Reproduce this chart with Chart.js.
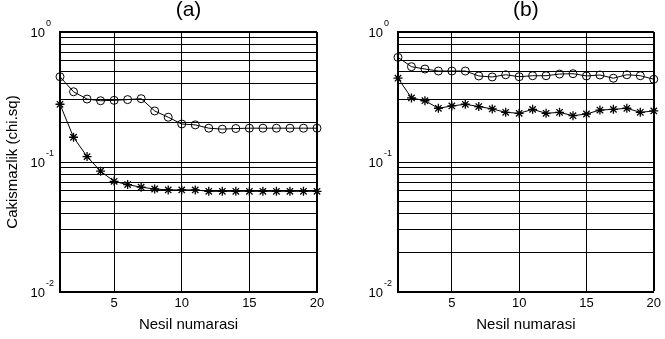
<!DOCTYPE html>
<html>
<head>
<meta charset="utf-8">
<script src="https://cdn.jsdelivr.net/npm/chart.js@4"></script>
<style>
  body { margin: 0; background: #fff; width: 665px; height: 339px; overflow: hidden; position: relative; }
  canvas { position: absolute; top: 0; }
</style>
</head>
<body>
<canvas id="chartA" width="332" height="339" style="left:0"></canvas>
<canvas id="chartB" width="333" height="339" style="left:332px"></canvas>
<script>
// generation numbers (x)
const generations = [1, 2, 3, 4, 5, 6, 7, 8, 9, 10, 11, 12, 13, 14, 15, 16, 17, 18, 19, 20];

// panel (a)
const aCircle = [0.453, 0.347, 0.305, 0.296, 0.298, 0.302, 0.307, 0.247, 0.221, 0.196,
                 0.193, 0.182, 0.179, 0.181, 0.182, 0.182, 0.182, 0.182, 0.182, 0.182];
const aStar = [0.278, 0.155, 0.110, 0.085, 0.071, 0.067, 0.064, 0.062, 0.061, 0.061,
               0.061, 0.0595, 0.0595, 0.0595, 0.0595, 0.0595, 0.0595, 0.0595, 0.0595, 0.0595];

// panel (b)
const bCircle = [0.638, 0.541, 0.519, 0.501, 0.501, 0.501, 0.459, 0.451, 0.469, 0.453,
                 0.461, 0.461, 0.475, 0.478, 0.459, 0.467, 0.441, 0.469, 0.461, 0.433];
const bStar = [0.441, 0.311, 0.296, 0.259, 0.270, 0.278, 0.267, 0.256, 0.241, 0.237,
               0.254, 0.237, 0.241, 0.227, 0.234, 0.251, 0.254, 0.259, 0.241, 0.247];

// ticks
const yTicks = [0.01, 0.02, 0.03, 0.04, 0.05, 0.06, 0.07, 0.08, 0.09,
                0.1, 0.2, 0.3, 0.4, 0.5, 0.6, 0.7, 0.8, 0.9, 1];
const yDecades = [0.01, 0.1, 1];
const xTicks = [5, 10, 15, 20];

const FONT = "'Liberation Sans', Arial, Helvetica, sans-serif";

// draws the 10^n labels and the (a)/(b) heading
const panelText = {
    id: 'panelText',
    afterDraw(chart, args, opts) {
        const ctx = chart.ctx;
        const y = chart.scales.y;
        const area = chart.chartArea;
        ctx.save();
        ctx.fillStyle = '#000';
        ctx.textBaseline = 'alphabetic';
        yDecades.forEach(v => {
            const py = y.getPixelForValue(v);
            const exp = String(Math.round(Math.log10(v)));
            ctx.font = '13px ' + FONT;
            ctx.textAlign = 'right';
            ctx.fillText('10', area.left - 15, py + 4.5);
            ctx.font = '9px ' + FONT;
            ctx.textAlign = 'left';
            ctx.fillText(exp, area.left - 14, py - 6.5);
        });
        ctx.font = '21px ' + FONT;
        ctx.textAlign = 'center';
        ctx.fillText(opts.title, (area.left + area.right) / 2, 16);
        ctx.restore();
    }
};

function toPoints(values) {
    return generations.map((g, i) => ({ x: g, y: values[i] }));
}

function makeChart(id, title, circles, stars, axisWidth, rightPad, yTitle) {
    const ctx = document.getElementById(id).getContext('2d');
    return new Chart(ctx, {
        type: 'line',
        data: {
            datasets: [{
                data: toPoints(circles),
                borderColor: '#000',
                borderWidth: 1,
                pointStyle: 'circle',
                pointRadius: 4,
                pointBorderWidth: 1,
                pointBorderColor: '#000',
                pointBackgroundColor: 'rgba(0,0,0,0)',
                clip: false
            }, {
                data: toPoints(stars),
                borderColor: '#000',
                borderWidth: 1,
                pointStyle: 'star',
                pointRadius: 4.5,
                pointBorderWidth: 1.3,
                pointBorderColor: '#000',
                pointBackgroundColor: 'rgba(0,0,0,0)',
                clip: false
            }]
        },
        options: {
            responsive: false,
            animation: false,
            devicePixelRatio: 1,
            layout: { padding: { top: 32, right: rightPad, left: 0, bottom: 0 } },
            plugins: {
                legend: { display: false },
                tooltip: { enabled: false },
                panelText: { title: title }
            },
            scales: {
                x: {
                    type: 'linear',
                    min: 1,
                    max: 20,
                    afterBuildTicks: s => { s.ticks = xTicks.map(v => ({ value: v })); },
                    afterFit: s => { s.height = 47; },
                    grid: {
                        color: '#000',
                        lineWidth: c => (c.tick && c.tick.value === 20 ? 2 : 1),
                        drawTicks: false
                    },
                    border: { color: '#000', width: 2 },
                    ticks: { color: '#000', font: { family: FONT, size: 13 }, padding: 4, maxRotation: 0 },
                    title: {
                        display: true,
                        text: 'Nesil numarasi',
                        color: '#000',
                        font: { family: FONT, size: 15 },
                        padding: { top: 0, bottom: 5 }
                    }
                },
                y: {
                    type: 'logarithmic',
                    min: 0.01,
                    max: 1,
                    afterBuildTicks: s => { s.ticks = yTicks.map(v => ({ value: v, major: yDecades.includes(v) })); },
                    afterFit: s => { s.width = axisWidth; },
                    grid: {
                        color: '#000',
                        lineWidth: c => (c.tick && c.tick.value === 1 ? 2 : 1),
                        drawTicks: false
                    },
                    border: { color: '#000', width: 2 },
                    ticks: { display: false },
                    title: {
                        display: !!yTitle,
                        text: yTitle || '',
                        color: '#000',
                        font: { family: FONT, size: 15 },
                        padding: { top: 4, bottom: 0 }
                    }
                }
            }
        },
        plugins: [panelText]
    });
}

makeChart('chartA', '(a)', aCircle, aStar, 60, 15, 'Cakismazlik (chi.sq)');
makeChart('chartB', '(b)', bCircle, bStar, 66, 10, null);
</script>
</body>
</html>
